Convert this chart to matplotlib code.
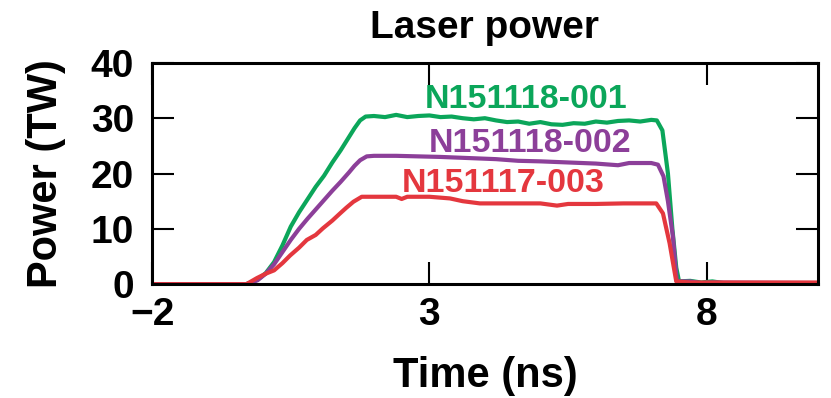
import matplotlib.pyplot as plt

plt.rcParams['font.family'] = ['Liberation Sans', 'DejaVu Sans']
plt.rcParams['font.weight'] = 'bold'

# shot N151118-001 (green)
t_001 = [-2, -0.3, -0.1, 0.05, 0.2, 0.35, 0.5, 0.65, 0.8, 0.95, 1.1, 1.25, 1.4, 1.55,
         1.65, 1.75, 1.85, 2.0, 2.2, 2.4, 2.6, 2.8, 3.0, 3.2, 3.4, 3.6, 3.8, 4.0, 4.2,
         4.4, 4.6, 4.8, 5.0, 5.2, 5.4, 5.6, 5.8, 6.0, 6.2, 6.4, 6.6, 6.8, 7.0, 7.1,
         7.2, 7.3, 7.38, 7.45, 7.5, 7.7, 7.9, 8.1, 8.3, 10]
p_001 = [0, 0, 0.8, 2.0, 4.0, 7.0, 10.4, 13.0, 15.3, 17.6, 19.6, 22.0, 24.2, 26.6,
         28.2, 29.6, 30.3, 30.4, 30.2, 30.6, 30.2, 30.4, 30.5, 30.2, 30.3, 30.0, 29.8,
         30.0, 29.6, 29.3, 29.4, 29.0, 29.3, 28.9, 28.8, 29.1, 29.0, 29.4, 29.2, 29.5,
         29.6, 29.4, 29.7, 29.6, 27.8, 20.0, 10.0, 3.0, 0.5, 0.6, 0.3, 0.5, 0.2, 0.2]

# shot N151118-002 (purple)
t_002 = [-2, -0.3, -0.1, 0.05, 0.2, 0.35, 0.5, 0.65, 0.8, 0.95, 1.1, 1.25, 1.4, 1.55,
         1.65, 1.75, 1.87, 2.0, 2.4, 2.8, 3.2, 3.7, 4.2, 4.6, 5.0, 5.5, 6.0, 6.4, 6.6,
         7.0, 7.12, 7.22, 7.3, 7.39, 7.46, 7.7, 7.9, 8.1, 10]
p_002 = [0, 0, 0.7, 1.9, 3.6, 5.8, 8.0, 10.0, 11.8, 13.5, 15.2, 16.9, 18.5, 20.2,
         21.4, 22.4, 23.1, 23.2, 23.2, 23.1, 23.0, 22.8, 22.6, 22.3, 22.2, 22.0, 21.8,
         21.5, 21.9, 21.9, 21.6, 19.5, 15.0, 8.6, 0.5, 0.5, 0.2, 0.3, 0.2]

# shot N151117-003 (red)
t_003 = [-2.2, -0.3, -0.11, 0.05, 0.2, 0.35, 0.49, 0.65, 0.79, 0.95, 1.08, 1.25, 1.39,
         1.5, 1.63, 1.78, 2.0, 2.4, 2.5, 2.6, 3.0, 3.37, 3.6, 3.91, 4.5, 5.0, 5.3, 5.5,
         6.0, 6.5, 7.09, 7.21, 7.33, 7.45, 7.7, 10]
p_003 = [0, 0, 1.1, 1.9, 2.5, 3.8, 5.2, 6.6, 8.0, 8.9, 10.1, 11.5, 12.8, 13.8, 14.9,
         15.8, 15.8, 15.8, 15.4, 15.8, 15.8, 15.5, 15.0, 14.6, 14.6, 14.6, 14.2, 14.5,
         14.5, 14.6, 14.6, 12.8, 7.4, 0.5, 0.3, 0.3]

shots = ['N151118-001', 'N151118-002', 'N151117-003']
colors = ['#0ba65a', '#8c3f99', '#e4373e']
label_x = [4.75, 4.81, 4.33]
label_y = [33.3, 25.5, 18.2]

fig = plt.figure(figsize=(8.31, 3.98), dpi=100)
ax = fig.add_axes([0.183, 0.286, 0.801, 0.556])

for t, p, c in zip([t_001, t_002, t_003], [p_001, p_002, p_003], colors):
    ax.plot(t, p, color=c, lw=3.0, solid_joinstyle='round', clip_on=True)

for name, c, x, y in zip(shots, colors, label_x, label_y):
    ax.text(x, y, name, color=c, fontsize=24.5, fontweight='bold',
            ha='center', va='center')

ax.set_xlim(-2, 10)
ax.set_ylim(0, 40)
ax.set_xticks([-2, 3, 8])
ax.set_yticks([0, 10, 20, 30, 40])
ax.tick_params(direction='in', length=16, width=1.5, top=True, right=True,
               labelsize=28)
ax.tick_params(axis='x', pad=9)
ax.tick_params(axis='y', pad=13)
for s in ax.spines.values():
    s.set_linewidth(2.2)

ax.set_title('Laser power', fontsize=28, fontweight='bold', pad=18)
ax.set_xlabel('Time (ns)', fontsize=30, fontweight='bold', labelpad=17)
ax.set_ylabel('Power (TW)', fontsize=30, fontweight='bold', labelpad=18)

fig.savefig('out.png', dpi=100)
